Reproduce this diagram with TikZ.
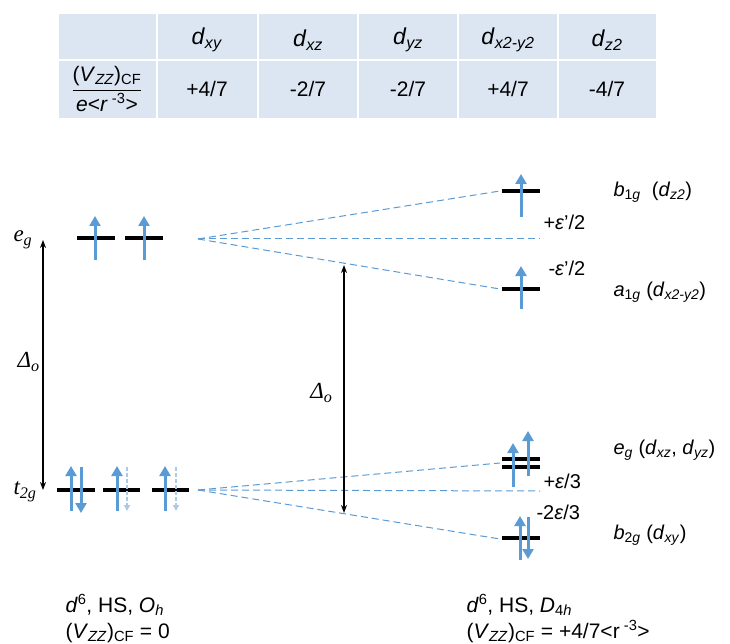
\documentclass[tikz,border=0pt]{standalone}
\usepackage{amsmath}
\usepackage{fontspec}
\setmainfont{Liberation Sans}
\newfontfamily\timesfont{Liberation Serif}
\usetikzlibrary{arrows.meta}
\definecolor{spinblue}{RGB}{91,155,213}
\definecolor{paleblue}{RGB}{170,202,234}
\definecolor{cellblue}{RGB}{220,230,242}

\begin{document}
\begin{tikzpicture}[x=1pt, y=-1pt,
    cell/.style={fill=cellblue, draw=white, line width=2.5pt},
    hd/.style={font=\fontsize{23}{23}\selectfont},
    val/.style={font=\fontsize{21}{21}\selectfont},
    level/.style={line width=3.5pt, color=black},
    spin/.style={line width=3pt, color=spinblue, -{Triangle[width=11pt,length=10pt]}},
    ghost/.style={line width=1.8pt, color=paleblue, dash pattern=on 4pt off 2pt,
                  -{Triangle[width=6pt,length=6pt]}},
    split/.style={color=spinblue, line width=1pt, dash pattern=on 7pt off 4pt},
    gap/.style={line width=1.5pt, {Stealth[length=8pt,width=6pt]}-{Stealth[length=8pt,width=6pt]}},
    sym/.style={font=\fontsize{23}{23}\selectfont\timesfont\itshape},
    lab/.style={anchor=west, font=\fontsize{20}{20}\selectfont},
    note/.style={anchor=north west, align=left, font=\fontsize{21}{26}\selectfont}
]
\useasboundingbox (0,0) rectangle (730,644);

\foreach \xa/\xb in {58/157,157/258,258/358,358/458,458/558,558/657}{
  \draw[cell] (\xa,13) rectangle (\xb,60);
  \draw[cell] (\xb,60) rectangle (\xa,119);
}
\node[hd] (hxy) at (207,40) {\textit{d}\textsubscript{\textit{xy}}};
\node[hd] (hxz) at (308,40) {\textit{d}\textsubscript{\textit{xz}}};
\node[hd] (hyz) at (408,40) {\textit{d}\textsubscript{\textit{yz}}};
\node[hd] (hx2y2) at (508,40) {\textit{d}\textsubscript{\textit{x2-y2}}};
\node[hd] (hz2) at (607,40) {\textit{d}\textsubscript{\textit{z2}}};
\node[val] (ratio) at (107,89)
  {$\dfrac{\text{(\textit{V}\textsubscript{\textit{ZZ}})\textsubscript{CF}}}{\text{\textit{e}<\textit{r}\textsuperscript{ -3}>}}$};
\node[val] (vxy) at (207,89) {+4/7};
\node[val] (vxz) at (308,89) {-2/7};
\node[val] (vyz) at (408,89) {-2/7};
\node[val] (vx2y2) at (508,89) {+4/7};
\node[val] (vz2) at (607,89) {-4/7};

\coordinate (egfan) at (198,239);
\coordinate (tfan) at (198,490);
\coordinate (b1end) at (500,191);
\coordinate (egmid) at (540,239);
\coordinate (a1end) at (500,289);
\coordinate (eend) at (500,463);
\coordinate (tmid) at (540,491);
\coordinate (b2end) at (500,539);

\draw[level] (77,238) -- (115,238);
\draw[level] (125,238) -- (163,238);
\draw[spin] (95,260) -- (95,216);
\draw[spin] (144,260) -- (144,216);

\draw[level] (57,490) -- (95,490);
\draw[level] (103,490) -- (140,490);
\draw[level] (152,490) -- (189,490);
\draw[spin] (71,511) -- (71,466);
\draw[spin] (81,467) -- (81,513);
\draw[spin] (117,511) -- (117,466);
\draw[ghost] (127,467) -- (127,511);
\draw[spin] (165,511) -- (165,466);
\draw[ghost] (176,467) -- (176,511);

\draw[split] (egfan) -- (b1end);
\draw[split] (egfan) -- (egmid);
\draw[split] (egfan) -- (a1end);
\draw[split] (tfan) -- (eend);
\draw[split] (tfan) -- (tmid);
\draw[split] (tfan) -- (b2end);

\draw[level] (502,191) -- (540,191);
\draw[spin] (521,217) -- (521,174);
\draw[level] (502,289) -- (540,289);
\draw[spin] (521,309) -- (521,266);
\draw[level] (502,459) -- (540,459);
\draw[level] (502,467) -- (540,467);
\draw[spin] (513,487) -- (513,443);
\draw[spin] (528,476) -- (528,431);
\draw[level] (502,538) -- (540,538);
\draw[spin] (520,560) -- (520,516);
\draw[spin] (528,517) -- (528,559);

\node[sym, anchor=west] (eglab) at (10,240) {e\textsubscript{g}};
\node[sym, anchor=west] (tlab) at (10,492) {t\textsubscript{2g}};
\coordinate (gtop) at (43,240);
\coordinate (gbot) at (43,490);
\draw[gap] (gtop) -- (gbot);
\node[sym, anchor=west] (dleft) at (14,362) {Δ\textsubscript{o}};
\coordinate (mtop) at (344,265);
\coordinate (mbot) at (344,513);
\draw[gap, line width=2pt] (mtop) -- (mbot);
\node[sym, anchor=east] (dmid) at (336,393) {Δ\textsubscript{o}};

\node[lab] (b1lab) at (610,192) {\textit{b}\textsubscript{1\textit{g}}\ \ (\textit{d}\textsubscript{\textit{z2}})};
\node[lab] (up1) at (540,222) {+\textit{ε}'/2};
\node[lab] (dn1) at (545,268) {-\textit{ε}'/2};
\node[lab] (a1lab) at (610,292) {\textit{a}\textsubscript{1\textit{g}} (\textit{d}\textsubscript{\textit{x2-y2}})};
\node[lab] (eglab2) at (610,450) {\textit{e}\textsubscript{\textit{g}} (\textit{d}\textsubscript{\textit{xz}}, \textit{d}\textsubscript{\textit{yz}})};
\node[lab] (up2) at (540,481) {+\textit{ε}/3};
\node[lab] (dn2) at (533,512) {-2\textit{ε}/3};
\node[lab] (b2lab) at (610,535) {\textit{b}\textsubscript{2\textit{g}} (\textit{d}\textsubscript{\textit{xy}})};

\node[note] (ohnote) at (62,591) {\textit{d}\textsuperscript{6}, HS, \textit{O}\textsubscript{\textit{h}}\\(\textit{V}\textsubscript{\textit{ZZ}})\textsubscript{CF} = 0};
\node[note] (d4note) at (463,591) {\textit{d}\textsuperscript{6}, HS, \textit{D}\textsubscript{4\textit{h}}\\(\textit{V}\textsubscript{\textit{ZZ}})\textsubscript{CF} = +4/7<r\textsuperscript{ -3}>};
\end{tikzpicture}
\end{document}
